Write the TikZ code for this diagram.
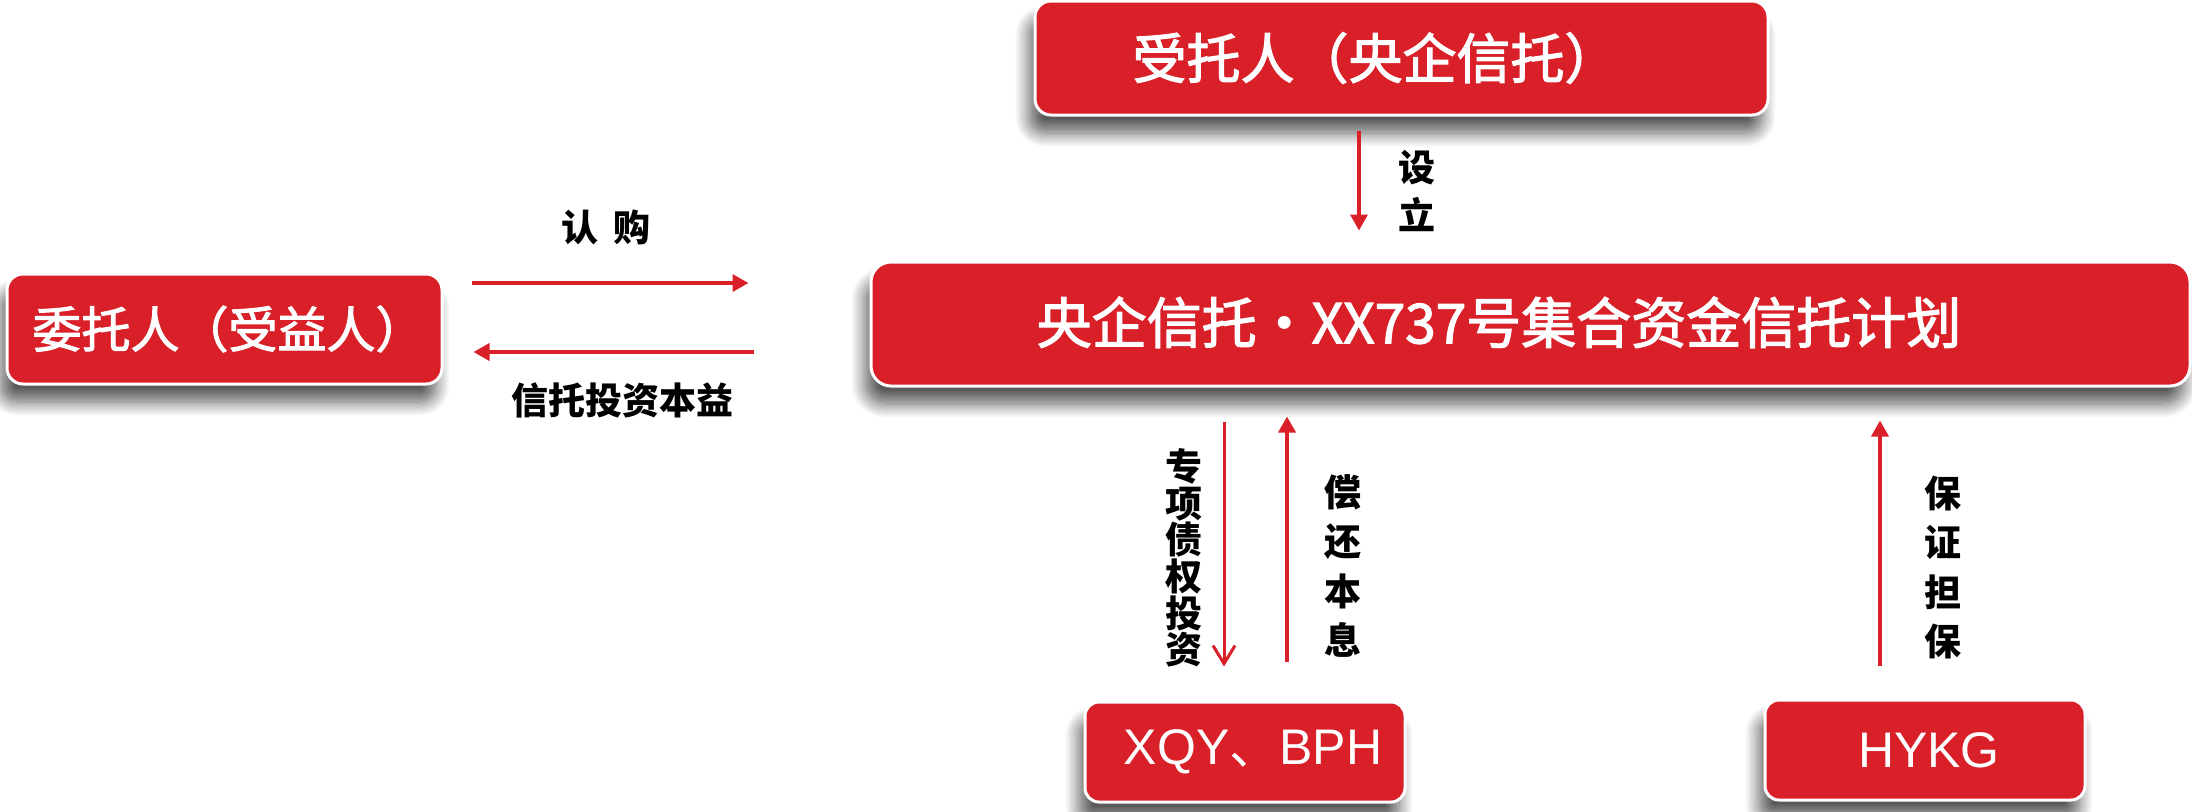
\documentclass[tikz,border=0pt]{standalone}
\usepackage{fontspec}
\newfontfamily\cjk{Noto Sans CJK SC}
\newfontfamily\cjkm[FakeBold=2.2]{Noto Sans CJK SC}
\newfontfamily\arial{Liberation Sans}
\usetikzlibrary{calc,arrows.meta,shadows.blur}
\definecolor{boxred}{RGB}{217,32,41}
\tikzset{
  redbox/.style={draw=white, line width=1.5pt, fill=boxred, text=white,
    rounded corners=8pt, inner sep=0pt,
    blur shadow={shadow xshift=-3pt, shadow yshift=-9pt, shadow blur radius=7pt, shadow blur steps=12, shadow opacity=65}},
  arr/.style={draw=boxred, line width=1.8pt, -{Triangle[length=8pt,width=8.5pt]}},
  arrv/.style={draw=boxred, line width=1.5pt, -{Straight Barb[length=9pt,width=11pt]}},
  lbl/.style={text=black, inner sep=0pt, align=center},
}
\begin{document}
\begin{tikzpicture}[x=0.5pt,y=-0.5pt]
\useasboundingbox (0,0) rectangle (2192,811);
% boxes
\node[redbox, minimum width=366.5pt, minimum height=57pt, font=\cjkm\fontsize{27}{30}\selectfont]
  (top) at (1401.5,58) {受托人（央企信托）\hspace*{26pt}};
\node[redbox, minimum width=659.5pt, minimum height=62pt, rounded corners=10pt, font=\cjkm\fontsize{27.5}{30}\selectfont]
  (main) at (1530.5,324) {\raisebox{4pt}{央企信托•XX737号集合资金信托计划}\hspace*{31.5pt}};
\node[redbox, minimum width=217.5pt, minimum height=55pt, font=\cjkm\fontsize{24.5}{28}\selectfont]
  (left) at (224.5,329) {\hspace*{4pt}委托人（受益人）};
\node[redbox, minimum width=160pt, minimum height=50pt, rounded corners=7pt, font=\arial\fontsize{25}{28}\selectfont]
  (xqy) at (1245,752) {\hspace*{8pt}XQY{\cjk 、}BPH};
\node[redbox, minimum width=160pt, minimum height=50pt, rounded corners=7pt, font=\arial\fontsize{25}{28}\selectfont]
  (hykg) at (1925,750) {\hspace*{4pt}HYKG};
% arrows
\draw[arr] ($(top.south)+(-42.5,14)$) -- ($(main.north)+(-171.5,-30)$);
\draw[arr] ($(left.east)+(28,-46)$) -- ($(main.west)+(-121,-41)$);
\draw[arr] ($(main.west)+(-116,28)$) -- ($(left.east)+(30,23)$);
\draw[arrv] ($(main.south)+(-306.5,34)$) -- ($(xqy.north)+(-21,-34)$);
\draw[arr] ($(xqy.north)+(42,-39)$) -- ($(main.south)+(-243.5,29)$);
\draw[arr] ($(hykg.north)+(-45,-33)$) -- ($(main.south)+(349.5,33)$);
% labels
\node[lbl, font=\cjk\bfseries\fontsize{18.5}{24}\selectfont] (lset) at (1417,191) {设\\立};
\node[lbl, font=\cjk\bfseries\fontsize{18.5}{22}\selectfont] (lbuy) at (606,227) {认\hspace{0.4em}购};
\node[lbl, font=\cjk\bfseries\fontsize{18.5}{22}\selectfont] (lret) at (622,400) {信托投资本益};
\node[lbl, font=\cjk\bfseries\fontsize{18.5}{18.35}\selectfont] (linv) at (1184,558) {专\\项\\债\\权\\投\\资};
\node[lbl, font=\cjk\bfseries\fontsize{18.5}{24.6}\selectfont] (lrep) at (1343,566) {偿\\还\\本\\息};
\node[lbl, font=\cjk\bfseries\fontsize{18.5}{24.8}\selectfont] (lgua) at (1943,567.5) {保\\证\\担\\保};
\end{tikzpicture}
\end{document}
